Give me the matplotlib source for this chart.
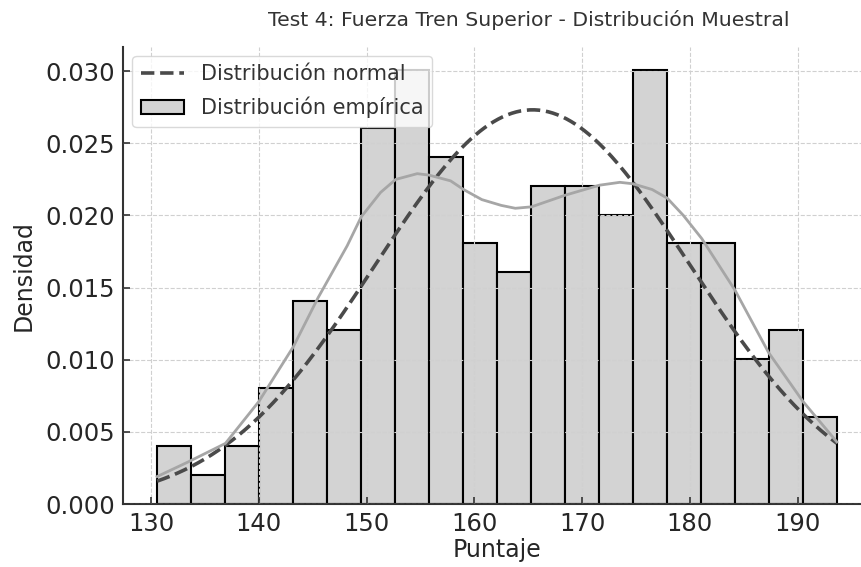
import numpy as np
import matplotlib
matplotlib.use('Agg')
import matplotlib.pyplot as plt

# Histogram (counts per bin, 20 equal bins)
bin_left = 130.56
bin_right = 193.64
counts = [2, 1, 2, 4, 7, 6, 13, 15, 12, 9, 8, 11, 11, 10, 15, 9, 9, 5, 6, 3]
n_total = 158

# Normal fit parameters
mu = 165.4
sigma = 14.6

# KDE curve, read point by point
kde_x = [130.56, 133.4, 136.9, 140.0, 143.2, 145.5, 148.2, 149.5, 151.3, 152.7,
         154.7, 155.8, 157.8, 159.0, 160.7, 162.5, 163.8, 165.3, 168.4, 171.6,
         173.5, 174.7, 176.5, 177.9, 179.4, 181.1, 184.2, 187.3, 190.5, 193.64]
kde_y = [0.0019, 0.0029, 0.0042, 0.0071, 0.0109, 0.0143, 0.0179, 0.0199, 0.0216, 0.0225,
         0.0229, 0.0228, 0.0224, 0.0218, 0.0211, 0.0207, 0.0205, 0.0206, 0.0214, 0.0221,
         0.0223, 0.0222, 0.0218, 0.0212, 0.0200, 0.0184, 0.0148, 0.0105, 0.0071, 0.0043]

title = "Test 4: Fuerza Tren Superior - Distribución Muestral"

edges = np.linspace(bin_left, bin_right, len(counts) + 1)
width = edges[1] - edges[0]
density = np.array(counts) / (n_total * width)

fig = plt.figure(figsize=(8.62, 5.67), dpi=100)
ax = fig.add_axes([0.1427, 0.1111, 0.8677, 0.8065])

ax.bar(edges[:-1], density, width=width, align='edge', color='#d3d3d3',
       edgecolor='black', linewidth=1.5, label='Distribución empírica', zorder=1)

xs = np.linspace(bin_left, bin_right, 300)
pdf = np.exp(-0.5 * ((xs - mu) / sigma) ** 2) / (sigma * np.sqrt(2 * np.pi))
ax.plot(xs, pdf, '--', color='#4a4a4a', linewidth=2.6, label='Distribución normal', zorder=3)
ax.plot(kde_x, kde_y, color='#a6a6a6', linewidth=2.0, zorder=3)

ax.set_xlim(127.4, 196.8)
ax.set_ylim(0, 0.0317)
ax.set_yticks([0, 0.005, 0.010, 0.015, 0.020, 0.025, 0.030])
ax.set_yticklabels(['0.000', '0.005', '0.010', '0.015', '0.020', '0.025', '0.030'])
ax.set_xticks([130, 140, 150, 160, 170, 180, 190])

ax.grid(True, linestyle='--', color='#d0d0d0', linewidth=0.8, zorder=2)
ax.set_axisbelow(False)

for side in ['top', 'right']:
    ax.spines[side].set_visible(False)
for side in ['left', 'bottom']:
    ax.spines[side].set_color('#333333')
    ax.spines[side].set_linewidth(1.5)

ax.tick_params(direction='in', length=5, width=1.2, color='#333333',
               labelsize=17.5, labelcolor='#262626', pad=6)

ax.set_xlabel('Puntaje', fontsize=17, color='#262626', labelpad=1)
ax.set_ylabel('Densidad', fontsize=17, color='#262626', labelpad=7)
ax.set_title(title, fontsize=14.7, color='#333333', pad=15, x=0.543)

ax.legend(loc='upper left', fontsize=15, frameon=True, framealpha=0.8,
          edgecolor='#d0d0d0', labelcolor='#333333', borderaxespad=0.45,
          handlelength=2.1, borderpad=0.4, labelspacing=0.6)

fig.savefig('out.png', dpi=100)
